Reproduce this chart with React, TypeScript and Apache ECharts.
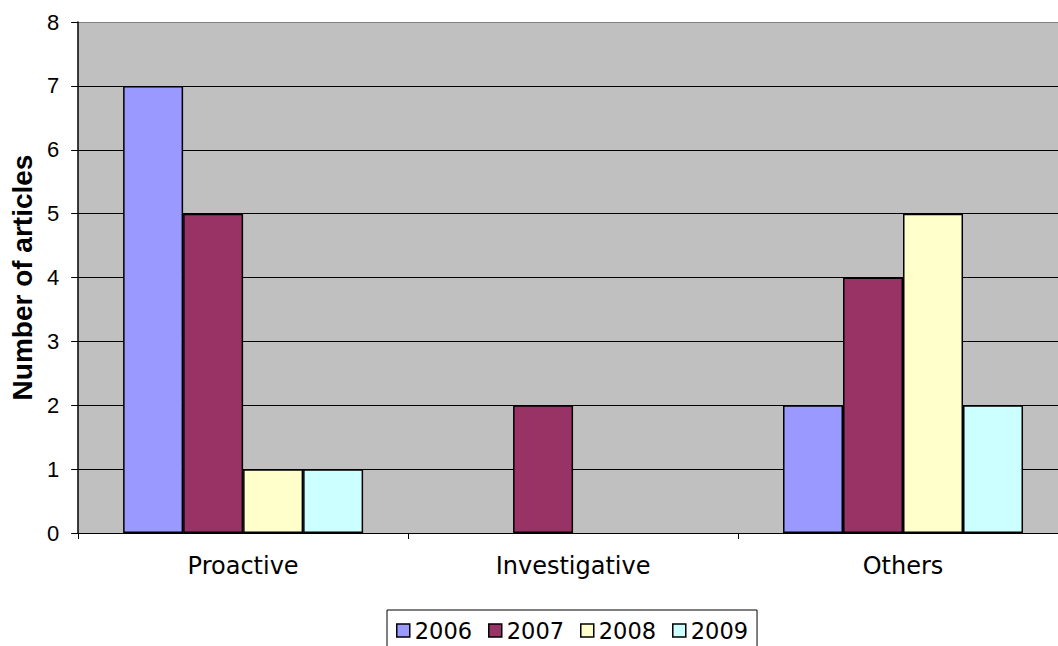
import React, { useEffect, useRef } from "react";
import * as echarts from "echarts";

const categories = ["Proactive", "Investigative", "Others"];
const seriesNames = ["2006", "2007", "2008", "2009"];
const values2006 = [7, 0, 2];
const values2007 = [5, 2, 4];
const values2008 = [1, 0, 5];
const values2009 = [1, 0, 2];
const seriesColors = ["#9999FF", "#993366", "#FFFFCC", "#CCFFFF"];
const yTicks = [0, 1, 2, 3, 4, 5, 6, 7, 8];

export default function App() {
  const ref = useRef<HTMLDivElement>(null);
  useEffect(() => {
    if (!ref.current) return;
    const chart = echarts.init(ref.current, undefined, { renderer: "svg" });
    const allValues = [values2006, values2007, values2008, values2009];
    const splitColors = yTicks.map((t, i) => (i === yTicks.length - 1 ? "#808080" : "#000000"));
    chart.setOption({
      animation: false,
      backgroundColor: "#ffffff",
      grid: {
        left: 75,
        top: 22,
        right: 0,
        bottom: 113,
        show: true,
        backgroundColor: "#C0C0C0",
        borderWidth: 0,
      },
      legend: {
        data: seriesNames,
        left: 387,
        top: 610,
        icon: "rect",
        itemWidth: 13,
        itemHeight: 13,
        itemGap: 16,
        itemTextGap: 8,
        padding: [9, 9, 20, 9],
        borderColor: "#000000",
        borderWidth: 1,
        backgroundColor: "#ffffff",
        textStyle: { fontFamily: "DejaVu Sans", fontSize: 22.5, color: "#000" },
        itemStyle: { borderColor: "#000", borderWidth: 1.5 },
      },
      xAxis: {
        type: "category",
        data: categories,
        axisLine: { show: true, lineStyle: { color: "#000", width: 1 } },
        axisTick: { show: true, length: 6, lineStyle: { color: "#000" } },
        axisLabel: {
          margin: 21,
          fontFamily: "DejaVu Sans",
          fontSize: 24,
          color: "#000",
        },
      },
      yAxis: {
        type: "value",
        min: 0,
        max: 8,
        interval: 1,
        name: "Number of articles",
        nameLocation: "middle",
        nameRotate: 90,
        nameGap: 42,
        nameTextStyle: {
          fontFamily: "Liberation Sans",
          fontWeight: "bold",
          fontSize: 28,
          color: "#000",
        },
        axisLine: { show: true, lineStyle: { color: "#000", width: 1.5 } },
        axisTick: { show: true, length: 7, lineStyle: { color: "#000" } },
        axisLabel: {
          margin: 19,
          fontFamily: "Liberation Sans",
          fontSize: 22,
          color: "#000",
        },
        splitLine: { show: true, lineStyle: { color: splitColors, width: 1 } },
      },
      series: seriesNames.map((name, i) => ({
        name,
        type: "bar",
        data: allValues[i].map((v) => (v === 0 ? "-" : v)),
        barWidth: 60,
        barGap: "0%",
        itemStyle: { color: seriesColors[i], borderColor: "#000", borderWidth: 1.5 },
      })),
    });
    return () => chart.dispose();
  }, []);
  return (
    <div style={{ position: "fixed", left: 0, top: 0, width: 1058, height: 646, overflow: "hidden" }}>
      <div ref={ref} style={{ position: "absolute", left: 0, top: 0, width: 1068, height: 646 }} />
    </div>
  );
}
